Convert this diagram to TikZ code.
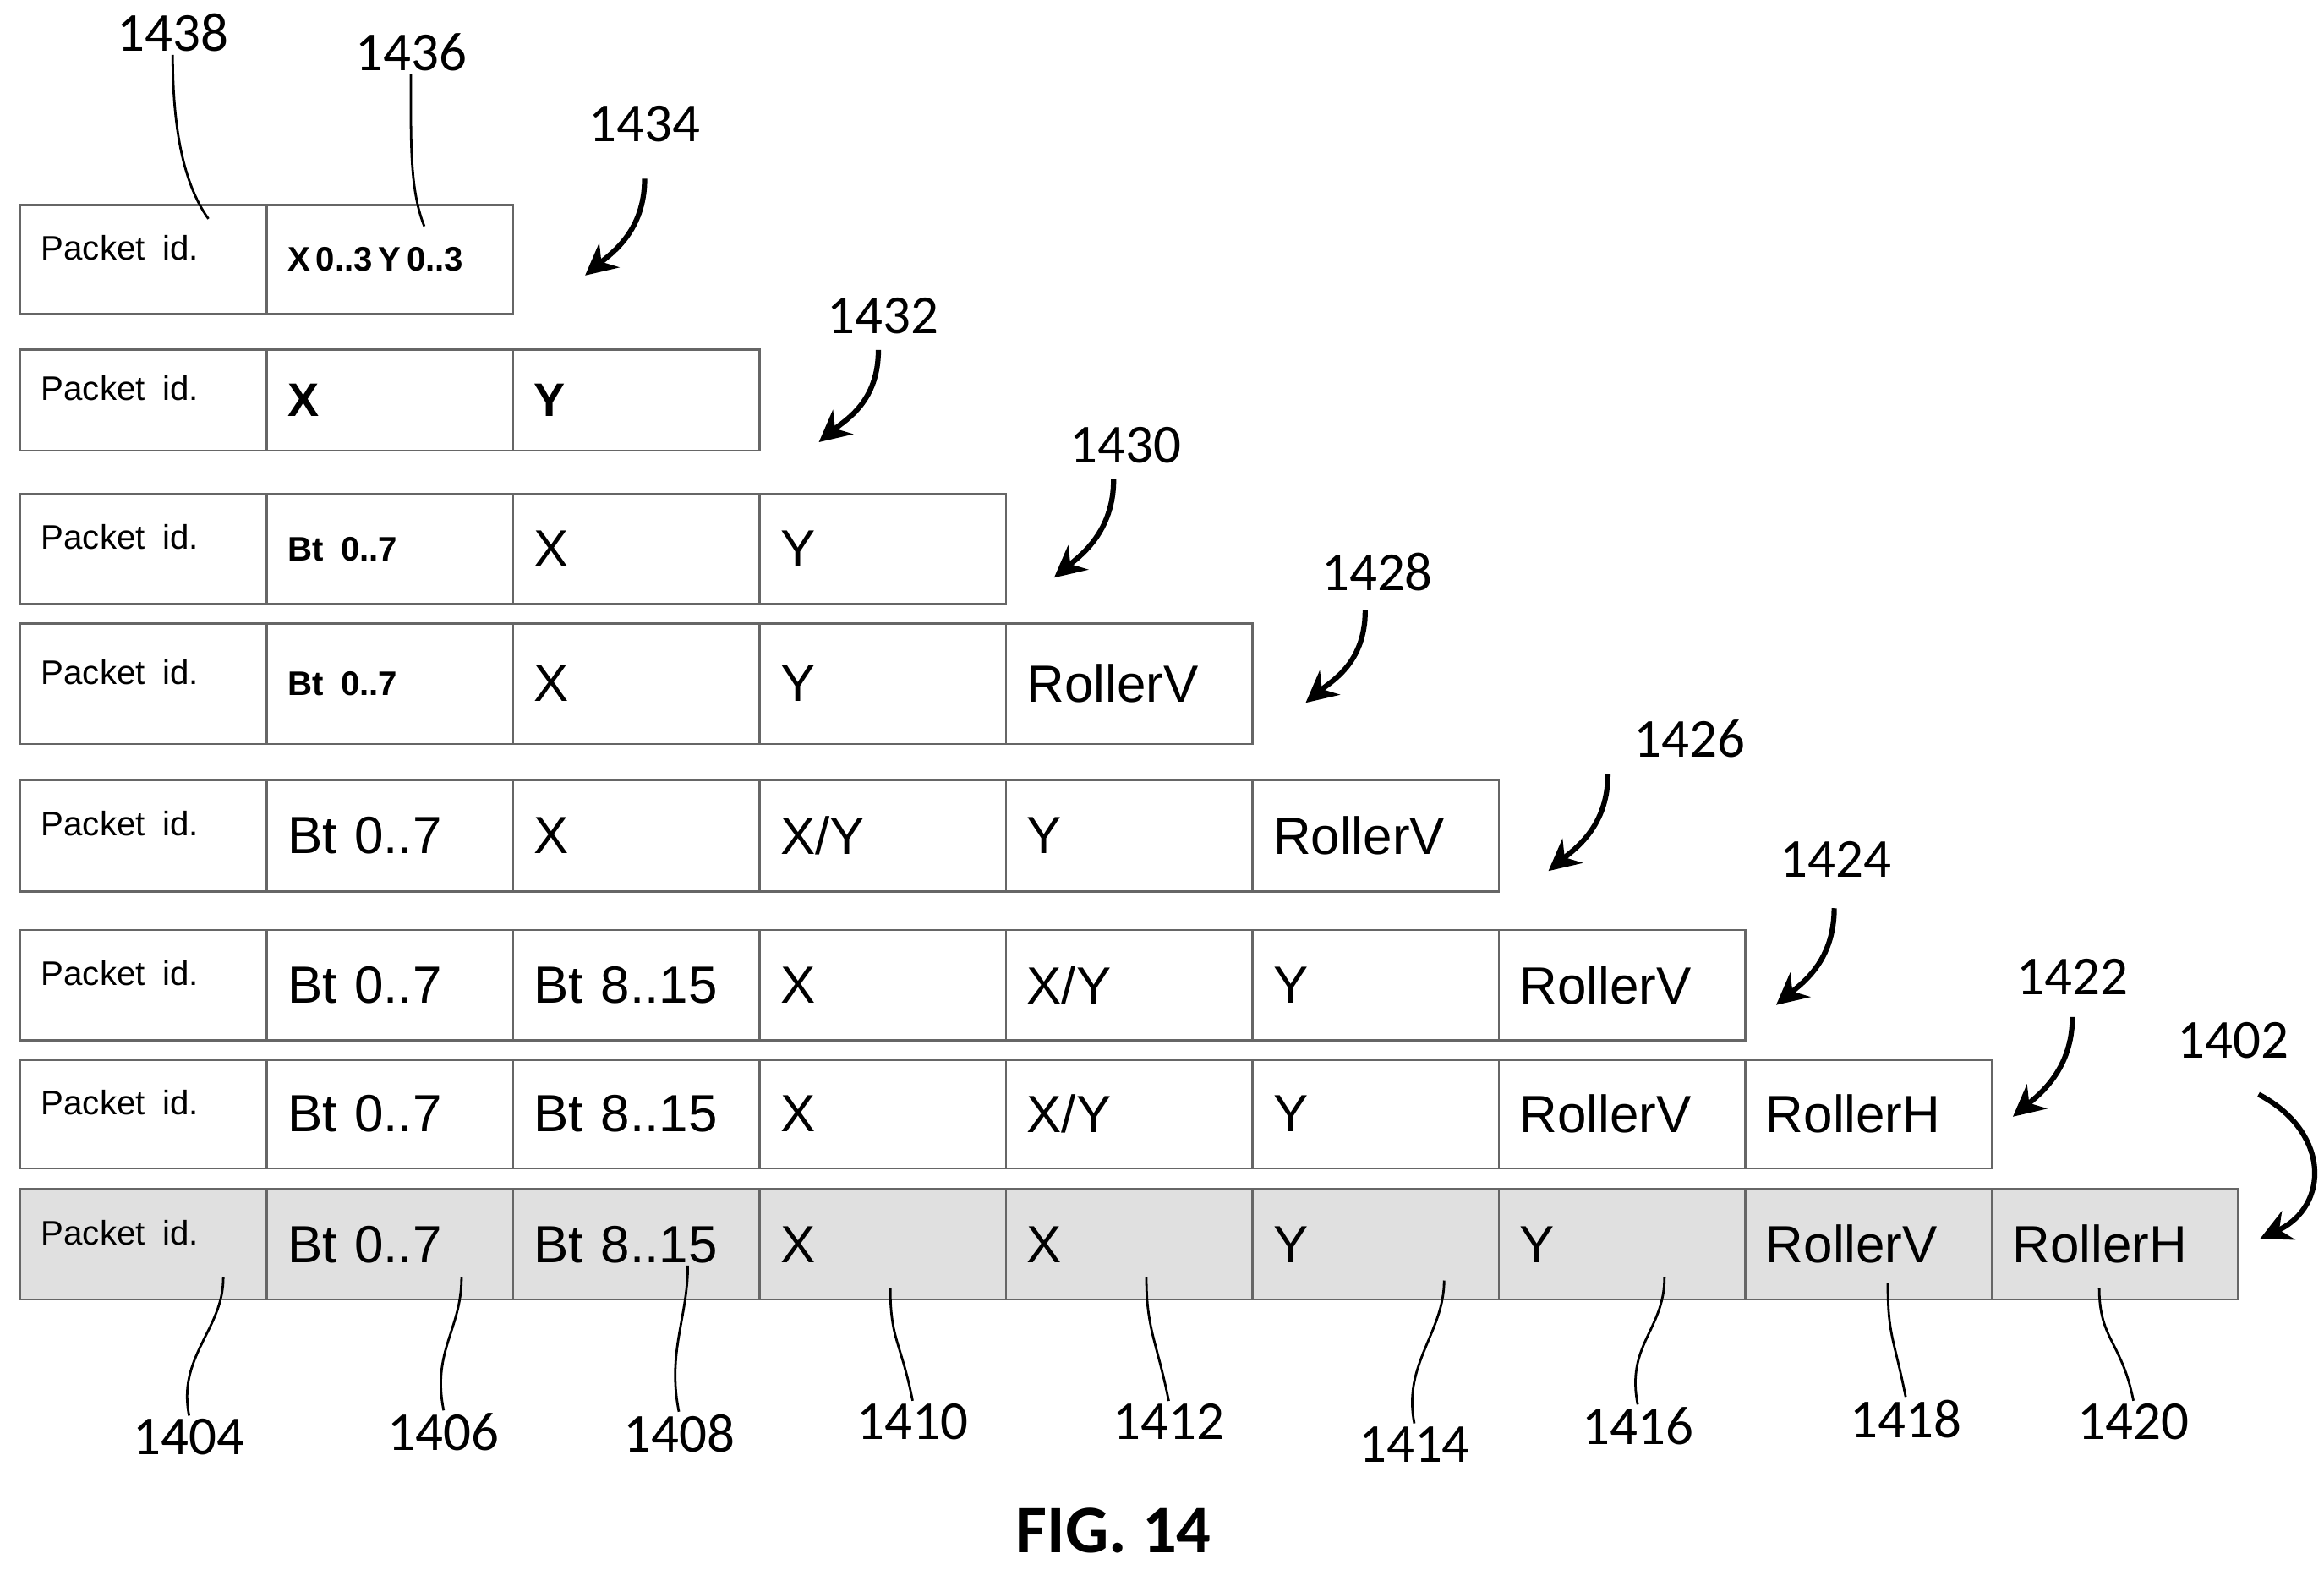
\documentclass[tikz,border=0pt]{standalone}
\usepackage{fontspec}
\setmainfont{Liberation Sans}
\newfontfamily\numfont{Carlito}
\usetikzlibrary{positioning,calc,arrows.meta}
\tikzset{
  cell/.style={draw=black!60, line width=0.8pt, minimum width=3.31cm, anchor=north west,
    text width=2.75cm, align=left, inner xsep=0.28cm, inner ysep=0pt,
    font=\fontsize{20}{20}\selectfont},
  shaded/.style={fill=black!12},
  num/.style={font=\numfont\fontsize{21}{21}\selectfont, inner sep=1pt},
  lead/.style={line width=0.9pt},
  pointer/.style={line width=2pt, -{Stealth[length=12pt,width=12pt]}}
}
\newcommand\pid{\raisebox{0.45em}{\fontsize{13}{13}\selectfont Packet id.}}
\newcommand\sm[1]{{\fontsize{13}{13}\selectfont\bfseries #1}}
% row name, top, height, extra style, cells
\newcommand\pktrow[5]{%
  \foreach \t [count=\c] in {#5} {
    \node[cell, #4, minimum height=#3*0.02cm] (#1c\c) at ({13+(\c-1)*165.5},#2) {\t};
  }}

\begin{document}
\begin{tikzpicture}[x=0.02cm, y=-0.02cm]
\useasboundingbox (0,0) rectangle (1561,1054);

% packet rows
\pktrow{ra}{137}{73}{}{\pid, \sm{X\,0..3\,Y\,0..3}}
\pktrow{rb}{234}{68}{}{\pid, \sm{\fontsize{18}{18}\selectfont X}, \sm{\fontsize{18}{18}\selectfont Y}}
\pktrow{rc}{331}{74}{}{\pid, \sm{Bt 0..7}, X, Y}
\pktrow{rd}{418}{81}{}{\pid, \sm{Bt 0..7}, X, Y, RollerV}
\pktrow{re}{523}{75}{}{\pid, Bt 0..7, X, X/Y, Y, RollerV}
\pktrow{rf}{624}{74}{}{\pid, Bt 0..7, Bt 8..15, X, X/Y, Y, RollerV}
\pktrow{rg}{711}{73}{}{\pid, Bt 0..7, Bt 8..15, X, X/Y, Y, RollerV, RollerH}
\pktrow{rh}{798}{74}{shaded}{\pid, Bt 0..7, Bt 8..15, X, X, Y, Y, RollerV, RollerH}

% reference numerals
\node[num] (l1438) at (116,22) {1438};
\node[num] (l1436) at (276,35) {1436};
\node[num] (l1434) at (433,83) {1434};
\node[num] (l1432) at (593,212) {1432};
\node[num] (l1430) at (756,299) {1430};
\node[num] (l1428) at (925,384) {1428};
\node[num] (l1426) at (1135,496) {1426};
\node[num] (l1424) at (1233,577) {1424};
\node[num] (l1422) at (1392,656) {1422};
\node[num] (l1402) at (1500,699) {1402};
\node[num] (l1404) at (127,965) {1404};
\node[num] (l1406) at (298,962) {1406};
\node[num] (l1408) at (456,963) {1408};
\node[num] (l1410) at (613,955) {1410};
\node[num] (l1412) at (785,955) {1412};
\node[num] (l1414) at (950,970) {1414};
\node[num] (l1416) at (1100,958) {1416};
\node[num] (l1418) at (1280,953) {1418};
\node[num] (l1420) at (1433,955) {1420};

% arrows to rows
\foreach \l/\xa/\ya/\xb/\yb in {1434/433/120/393/185, 1432/590/235/550/297,
    1430/748/322/708/388, 1428/917/410/877/472, 1426/1080/520/1040/585,
    1424/1232/610/1193/675, 1422/1392/683/1352/750} {
  \coordinate (s\l) at (\xa,\ya);
  \coordinate (e\l) at (\xb,\yb);
  \draw[pointer] (s\l) .. controls +(0,35) and +(18,-15) .. (e\l);
}
\coordinate (s1402) at (1517,735);
\coordinate (e1402) at (1518,832);
\draw[pointer] (s1402) .. controls (1565,760) and (1565,810) .. (e1402);

% leaders
\coordinate (p1438) at (140,147);
\coordinate (p1436) at (285,152);
\draw[lead] (l1438.south) .. controls +(0,45) and +(-18,-25) .. (p1438);
\draw[lead] (l1436.south) .. controls +(0,45) and +(-10,-25) .. (p1436);
\foreach \l/\xp/\yp in {1404/150/858, 1406/310/858, 1408/462/850, 1410/598/865,
    1412/770/858, 1414/970/860, 1416/1118/858, 1418/1268/862, 1420/1410/865} {
  \coordinate (p\l) at (\xp,\yp);
  \draw[lead] (l\l.north) .. controls +(-8,-40) and +(0,35) .. (p\l);
}

\node[font=\numfont\fontsize{26}{26}\selectfont\bfseries] (fig) at (748,1028) {FIG. 14};
\end{tikzpicture}
\end{document}
